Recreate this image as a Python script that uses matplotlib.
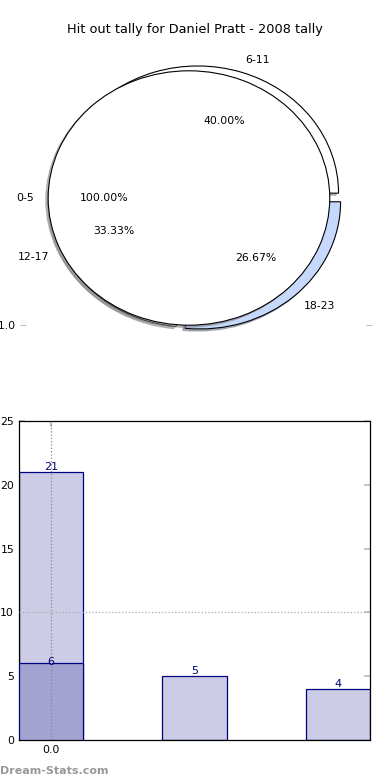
import matplotlib
matplotlib.use("Agg")
import matplotlib.pyplot as plt

# pie data
all_label = ["0-5"]
all_value = [15]
bracket_labels = ["6-11", "12-17", "18-23"]
bracket_values = [6, 5, 4]
bracket_colors = ["white", "white", "#c6d9fd"]

# bar data
bar_pos = [0, 1, 2]
bar_total = [21, 5, 4]
bar_part_pos = [0]
bar_part = [6]

fig = plt.figure(figsize=(3.9, 7.8), dpi=100)
fig.text(0.5, 1 - 30 / 780, "Hit out tally for Daniel Pratt - 2008 tally",
         ha="center", va="center", fontsize=9.3)

# top: overlapping pies
ax1 = fig.add_axes([20 / 390, 1 - 357 / 780, 352 / 390, 318 / 780])
tp = {"fontsize": 7.8, "zorder": 5}
shad = {"ox": -0.012, "oy": -0.012, "shade": 0.5}
ax1.pie(bracket_values, labels=bracket_labels, colors=bracket_colors,
        explode=[0.04, 0.04, 0.04], autopct="%.2f%%", shadow=shad,
        wedgeprops={"linewidth": 0.8, "edgecolor": "black"},
        textprops=tp)
ax1.pie(all_value, labels=all_label, colors=["white"], explode=[0.05],
        autopct="%.2f%%", shadow=shad,
        wedgeprops={"linewidth": 0.8, "edgecolor": "black", "zorder": 2},
        textprops=tp)
ax1.set_aspect("auto")
ax1.set_xlim(-1.25, 1.25)
ax1.set_ylim(-1.25, 1.25)
ax1.set_frame_on(False)
ax1.set_xticks([])
ax1.set_yticks([-1.0])
ax1.set_yticklabels(["-1.0"])
ax1.tick_params(axis="y", direction="in", length=4, color="#bbbbbb",
                labelsize=7.8, left=True, right=True, pad=3)

# bottom: bars
ax2 = fig.add_axes([19 / 390, 1 - 740 / 780, 351 / 390, 319 / 780])
ax2.bar(bar_pos, bar_total, width=0.45, color="#cccce6",
        edgecolor="#000080", linewidth=0.9, zorder=2)
ax2.bar(bar_part_pos, bar_part, width=0.45, color="#a3a3d1",
        edgecolor="#000080", linewidth=0.9, zorder=3)
for x, v in zip(bar_pos, bar_total):
    ax2.text(x, v, str(v), ha="center", va="bottom", color="#000080",
             fontsize=8, zorder=5)
for x, v in zip(bar_part_pos, bar_part):
    ax2.text(x, v - 0.3, str(v), ha="center", va="bottom", color="#000080",
             fontsize=8, zorder=5)
ax2.axhline(10, color="#aaaaaa", linestyle=":", linewidth=0.9, zorder=4)
ax2.axvline(0, color="#888888", linestyle=":", linewidth=0.9, zorder=4)
ax2.set_xlim(-0.225, 2.225)
ax2.set_ylim(0, 25)
ax2.set_yticks([0, 5, 10, 15, 20, 25])
ax2.set_xticks([0])
ax2.set_xticklabels(["0.0"])
ax2.tick_params(direction="in", length=4, color="#bbbbbb", labelsize=7.8,
                right=True, top=True, width=1.2)
for s in ax2.spines.values():
    s.set_linewidth(0.9)

fig.text(0, 1 - 771 / 780, "Dream-Stats.com", ha="left", va="center",
         fontsize=8, color="#999999", fontweight="semibold")

fig.savefig("out.png", dpi=100)
